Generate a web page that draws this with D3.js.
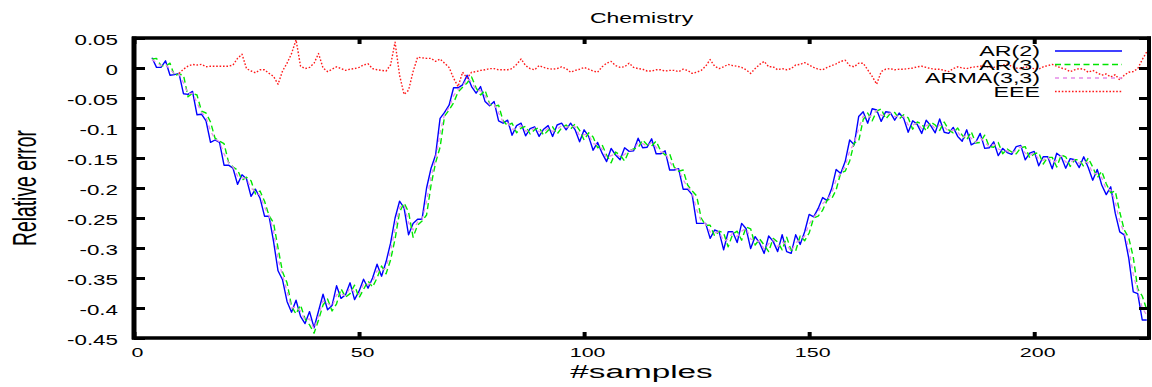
<!DOCTYPE html>
<html>
<head>
<meta charset="utf-8">
<script src="https://cdn.jsdelivr.net/npm/d3@7"></script>
<style>
  html, body { margin: 0; padding: 0; background: #fff; }
  svg { display: block; }
  text { font-family: "Liberation Sans", Arial, Helvetica, sans-serif; fill: #000; }
</style>
</head>
<body>
<svg id="chart" width="1152" height="387"></svg>
<script>
// Relative prediction error per sample for each model (Chemistry data set)
const firstSampleModels = 4;
const firstSampleEEE = 10;

const ar2 = [
  0.017, 0.001, 0.001, 0.012, -0.012, -0.011, -0.009, -0.043, -0.044, -0.039,
  -0.078, -0.077, -0.088, -0.124, -0.120, -0.124, -0.162, -0.162, -0.167, -0.194,
  -0.178, -0.185, -0.214, -0.202, -0.217, -0.247, -0.247, -0.289, -0.338, -0.353,
  -0.389, -0.407, -0.387, -0.414, -0.426, -0.406, -0.433, -0.405, -0.377, -0.403,
  -0.396, -0.363, -0.384, -0.378, -0.358, -0.386, -0.372, -0.352, -0.367, -0.350,
  -0.327, -0.347, -0.323, -0.292, -0.250, -0.222, -0.233, -0.278, -0.259, -0.252,
  -0.252, -0.200, -0.167, -0.145, -0.084, -0.074, -0.062, -0.033, -0.033, -0.028,
  -0.012, -0.031, -0.042, -0.031, -0.056, -0.063, -0.056, -0.088, -0.092, -0.087,
  -0.112, -0.096, -0.092, -0.113, -0.101, -0.098, -0.114, -0.102, -0.096, -0.114,
  -0.095, -0.092, -0.103, -0.092, -0.103, -0.123, -0.103, -0.114, -0.137, -0.124,
  -0.142, -0.156, -0.134, -0.145, -0.153, -0.133, -0.139, -0.138, -0.117, -0.133,
  -0.132, -0.118, -0.143, -0.143, -0.138, -0.170, -0.170, -0.168, -0.202, -0.202,
  -0.211, -0.259, -0.259, -0.259, -0.284, -0.270, -0.273, -0.303, -0.273, -0.273,
  -0.291, -0.259, -0.268, -0.301, -0.281, -0.292, -0.309, -0.280, -0.289, -0.306,
  -0.278, -0.306, -0.309, -0.278, -0.294, -0.273, -0.244, -0.248, -0.234, -0.216,
  -0.221, -0.201, -0.169, -0.176, -0.156, -0.120, -0.128, -0.081, -0.073, -0.092,
  -0.068, -0.070, -0.089, -0.073, -0.074, -0.087, -0.075, -0.084, -0.107, -0.088,
  -0.094, -0.109, -0.087, -0.096, -0.108, -0.085, -0.107, -0.109, -0.099, -0.114,
  -0.122, -0.103, -0.128, -0.124, -0.109, -0.134, -0.133, -0.123, -0.146, -0.134,
  -0.141, -0.144, -0.131, -0.129, -0.153, -0.142, -0.139, -0.163, -0.148, -0.148,
  -0.168, -0.142, -0.148, -0.167, -0.151, -0.153, -0.166, -0.148, -0.166, -0.187,
  -0.169, -0.195, -0.211, -0.198, -0.242, -0.273, -0.278, -0.317, -0.373, -0.376,
  -0.420, -0.420
];

const ar3 = [
  0.015, 0.016, 0.004, 0.003, 0.008, -0.013, -0.010, -0.012, -0.048, -0.042,
  -0.045, -0.072, -0.075, -0.090, -0.117, -0.122, -0.126, -0.157, -0.165, -0.170,
  -0.187, -0.182, -0.188, -0.210, -0.205, -0.222, -0.246, -0.258, -0.300, -0.340,
  -0.358, -0.397, -0.410, -0.395, -0.418, -0.428, -0.442, -0.420, -0.395, -0.385,
  -0.405, -0.393, -0.368, -0.382, -0.376, -0.362, -0.383, -0.369, -0.355, -0.365,
  -0.350, -0.330, -0.343, -0.320, -0.285, -0.240, -0.225, -0.240, -0.282, -0.262,
  -0.255, -0.245, -0.195, -0.158, -0.132, -0.080, -0.070, -0.058, -0.040, -0.032,
  -0.025, -0.015, -0.033, -0.045, -0.037, -0.060, -0.064, -0.062, -0.088, -0.096,
  -0.092, -0.108, -0.100, -0.097, -0.110, -0.103, -0.099, -0.112, -0.104, -0.098,
  -0.110, -0.100, -0.095, -0.102, -0.093, -0.104, -0.120, -0.108, -0.115, -0.133,
  -0.128, -0.145, -0.158, -0.140, -0.145, -0.155, -0.138, -0.135, -0.133, -0.120,
  -0.128, -0.130, -0.122, -0.138, -0.145, -0.143, -0.165, -0.172, -0.170, -0.195,
  -0.205, -0.213, -0.250, -0.262, -0.262, -0.280, -0.272, -0.275, -0.298, -0.277,
  -0.272, -0.287, -0.265, -0.268, -0.295, -0.285, -0.295, -0.306, -0.284, -0.290,
  -0.303, -0.282, -0.304, -0.305, -0.280, -0.288, -0.275, -0.250, -0.247, -0.237,
  -0.220, -0.218, -0.203, -0.175, -0.172, -0.155, -0.125, -0.122, -0.086, -0.075,
  -0.088, -0.072, -0.068, -0.085, -0.076, -0.074, -0.085, -0.078, -0.083, -0.102,
  -0.090, -0.093, -0.105, -0.090, -0.095, -0.104, -0.090, -0.103, -0.108, -0.100,
  -0.112, -0.120, -0.106, -0.125, -0.124, -0.112, -0.131, -0.132, -0.124, -0.143,
  -0.135, -0.140, -0.143, -0.133, -0.131, -0.150, -0.143, -0.141, -0.160, -0.149,
  -0.149, -0.165, -0.145, -0.148, -0.164, -0.153, -0.153, -0.164, -0.150, -0.165,
  -0.183, -0.172, -0.193, -0.208, -0.205, -0.240, -0.270, -0.283, -0.315, -0.368,
  -0.380, -0.403
];

const arma33 = [
  0.014, 0.009, 0.004, 0.006, -0.002, -0.010, -0.010, -0.025, -0.043, -0.042,
  -0.058, -0.074, -0.082, -0.105, -0.118, -0.123, -0.143, -0.158, -0.165, -0.180,
  -0.183, -0.184, -0.200, -0.206, -0.212, -0.232, -0.246, -0.272, -0.318, -0.346,
  -0.372, -0.400, -0.398, -0.405, -0.420, -0.418, -0.435, -0.413, -0.388, -0.392,
  -0.398, -0.378, -0.376, -0.380, -0.366, -0.374, -0.377, -0.360, -0.361, -0.357,
  -0.338, -0.338, -0.333, -0.305, -0.268, -0.232, -0.228, -0.258, -0.270, -0.257,
  -0.253, -0.222, -0.181, -0.152, -0.108, -0.077, -0.066, -0.046, -0.036, -0.030,
  -0.018, -0.023, -0.037, -0.038, -0.046, -0.061, -0.060, -0.075, -0.090, -0.091,
  -0.102, -0.102, -0.096, -0.105, -0.105, -0.100, -0.106, -0.107, -0.100, -0.106,
  -0.102, -0.096, -0.099, -0.097, -0.098, -0.113, -0.111, -0.111, -0.126, -0.128,
  -0.135, -0.150, -0.146, -0.143, -0.149, -0.144, -0.138, -0.136, -0.125, -0.126,
  -0.130, -0.124, -0.132, -0.140, -0.141, -0.156, -0.167, -0.170, -0.186, -0.199,
  -0.208, -0.236, -0.255, -0.260, -0.273, -0.275, -0.273, -0.289, -0.285, -0.275,
  -0.281, -0.272, -0.267, -0.285, -0.288, -0.289, -0.302, -0.293, -0.286, -0.298,
  -0.290, -0.294, -0.306, -0.291, -0.287, -0.280, -0.260, -0.249, -0.240, -0.226,
  -0.220, -0.209, -0.186, -0.176, -0.164, -0.138, -0.126, -0.101, -0.080, -0.083,
  -0.078, -0.071, -0.079, -0.079, -0.075, -0.081, -0.080, -0.081, -0.095, -0.095,
  -0.092, -0.101, -0.096, -0.093, -0.101, -0.095, -0.098, -0.106, -0.103, -0.107,
  -0.117, -0.111, -0.117, -0.124, -0.116, -0.123, -0.132, -0.127, -0.135, -0.138,
  -0.138, -0.142, -0.137, -0.131, -0.142, -0.146, -0.141, -0.152, -0.154, -0.148,
  -0.158, -0.154, -0.146, -0.157, -0.157, -0.153, -0.159, -0.156, -0.158, -0.176,
  -0.176, -0.183, -0.202, -0.203, -0.223, -0.256, -0.274, -0.300, -0.344, -0.372,
  -0.400, -0.412
];

const eee = [
  -0.009, -0.002, 0.003, 0.006, 0.005, 0.006, 0.002, 0.003, 0.003, 0.003,
  0.003, 0.003, 0.005, 0.016, 0.023, -0.001, -0.005, -0.008, -0.003, -0.003,
  -0.009, -0.014, -0.027, -0.005, 0.008, 0.024, 0.047, 0.003, -0.001, 0.001,
  0.008, 0.024, 0.000, -0.006, -0.002, 0.002, -0.001, -0.004, -0.002, -0.001,
  0.001, 0.005, 0.007, -0.001, -0.003, -0.004, -0.005, 0.005, 0.043, -0.012,
  -0.044, -0.037, -0.006, 0.018, 0.017, 0.016, 0.016, 0.011, 0.015, 0.008,
  0.001, -0.017, -0.031, -0.007, -0.017, -0.007, -0.006, -0.004, -0.003, -0.001,
  -0.001, -0.003, -0.003, -0.003, -0.001, 0.006, 0.015, 0.004, -0.001, -0.003,
  0.004, 0.001, -0.001, -0.002, -0.001, 0.002, -0.001, -0.007, -0.004, -0.002,
  0.001, -0.002, -0.005, -0.007, 0.002, 0.008, 0.011, 0.004, 0.001, 0.002,
  0.008, 0.001, -0.001, -0.002, -0.005, -0.005, -0.003, -0.003, -0.005, -0.004,
  -0.004, -0.006, -0.002, -0.004, -0.009, -0.007, -0.004, 0.003, 0.014, 0.003,
  -0.001, 0.002, 0.006, 0.004, 0.003, 0.001, -0.003, -0.009, -0.001, 0.006,
  0.011, 0.002, 0.002, -0.003, -0.001, -0.003, -0.001, 0.005, 0.006, 0.009,
  0.005, 0.001, -0.002, -0.003, 0.001, 0.004, 0.007, 0.011, 0.013, 0.004,
  0.002, 0.008, 0.008, -0.003, -0.014, -0.027, -0.006, -0.002, -0.001, -0.003,
  -0.002, -0.002, -0.001, 0.000, 0.002, 0.003, 0.001, -0.001, -0.002, -0.002,
  -0.004, -0.006, -0.001, 0.002, 0.000, -0.001, 0.001, 0.002, 0.003, 0.004,
  0.001, 0.001, 0.002, 0.005, 0.006, 0.003, 0.000, -0.001, 0.002, 0.000,
  -0.001, -0.002, 0.002, 0.004, 0.006, 0.003, 0.000, -0.002, -0.006, -0.003,
  -0.001, -0.002, -0.007, -0.004, -0.008, -0.012, -0.010, -0.015, -0.011, -0.020,
  -0.012, -0.007, -0.006, -0.001, 0.014, 0.027
];

const xTicks = [0, 50, 100, 150, 200];
const xTickLabels = ["0", "50", "100", "150", "200"];
const yTicks = [-0.45, -0.4, -0.35, -0.3, -0.25, -0.2, -0.15, -0.1, -0.05, 0, 0.05];
const yTickLabels = ["-0.45", "-0.4", "-0.35", "-0.3", "-0.25", "-0.2", "-0.15", "-0.1", "-0.05", "0", "0.05"];

const seriesNames = ["AR(2)", "AR(3)", "ARMA(3,3)", "EEE"];

// ---- layout ----
const plot = { left: 134, right: 1149, top: 38, bottom: 338 };
const svg = d3.select("#chart");

const x = d3.scaleLinear().domain([0, 225.5]).range([plot.left, plot.right]);
const y = d3.scaleLinear().domain([-0.45, 0.05]).range([plot.bottom, plot.top]);

const series = [
  { name: seriesNames[0], data: ar2, start: firstSampleModels, color: "#0000ff", width: 1.4, dash: null },
  { name: seriesNames[1], data: ar3, start: firstSampleModels, color: "#00e600", width: 1.4, dash: "6,3.5" },
  { name: seriesNames[2], data: arma33, start: firstSampleModels, color: "#e58be8", width: 1.3, dash: "4,4" },
  { name: seriesNames[3], data: eee, start: firstSampleEEE, color: "#ff1a1a", width: 1.4, dash: "1.6,1.8" }
];

const line = d3.line()
  .x(d => x(d[0]))
  .y(d => y(d[1]));

const gLines = svg.append("g");
series.forEach(s => {
  const pts = s.data.map((v, i) => [s.start + i, v]);
  gLines.append("path")
    .datum(pts)
    .attr("fill", "none")
    .attr("stroke", s.color)
    .attr("stroke-width", s.width)
    .attr("stroke-dasharray", s.dash)
    .attr("stroke-linejoin", "round")
    .attr("d", line);
});

// ---- axes (ticks drawn inward, mirrored on top and right) ----
function styleAxis(g, tickWidth) {
  g.select(".domain").remove();
  g.selectAll(".tick line").attr("stroke", "#000").attr("stroke-width", tickWidth);
}

const gLeft = svg.append("g")
  .attr("transform", `translate(${plot.left},0)`)
  .call(d3.axisLeft(y).tickValues(yTicks).tickSize(-11).tickFormat((d, i) => yTickLabels[i]));
styleAxis(gLeft, 3);
gLeft.selectAll(".tick text")
  .attr("x", 0)
  .attr("dy", "0.38em")
  .attr("text-anchor", "end")
  .attr("font-size", 14)
  .attr("font-family", null)
  .attr("transform", "translate(-16,1) scale(1.6,1)");

const gRight = svg.append("g")
  .attr("transform", `translate(${plot.right},0)`)
  .call(d3.axisRight(y).tickValues(yTicks).tickSize(-10).tickFormat(""));
styleAxis(gRight, 3);

const gBottom = svg.append("g")
  .attr("transform", `translate(0,${plot.bottom})`)
  .call(d3.axisBottom(x).tickValues(xTicks).tickSize(-6).tickFormat((d, i) => xTickLabels[i]));
styleAxis(gBottom, 4);
gBottom.selectAll(".tick text")
  .attr("y", 0)
  .attr("dy", 0)
  .attr("text-anchor", "middle")
  .attr("font-size", 13)
  .attr("font-family", null)
  .attr("transform", "translate(3,18.7) scale(1.65,1)");

const gTop = svg.append("g")
  .attr("transform", `translate(0,${plot.top})`)
  .call(d3.axisTop(x).tickValues(xTicks).tickSize(-6).tickFormat(""));
styleAxis(gTop, 4);

// ---- frame ----
const frame = svg.append("g").attr("stroke", "#000").attr("fill", "none");
frame.append("line").attr("x1", plot.left - 2).attr("x2", plot.right + 2)
  .attr("y1", plot.top).attr("y2", plot.top).attr("stroke-width", 3.3);
frame.append("line").attr("x1", plot.left - 2).attr("x2", plot.right + 2)
  .attr("y1", plot.bottom).attr("y2", plot.bottom).attr("stroke-width", 3.3);
frame.append("line").attr("x1", plot.left).attr("x2", plot.left)
  .attr("y1", plot.top - 1.6).attr("y2", plot.bottom + 1.6).attr("stroke-width", 5);
frame.append("line").attr("x1", plot.right).attr("x2", plot.right)
  .attr("y1", plot.top - 1.6).attr("y2", plot.bottom + 1.6).attr("stroke-width", 4);

// ---- titles ----
const cx = (plot.left + plot.right) / 2;
svg.append("text")
  .attr("text-anchor", "middle")
  .attr("font-size", 15)
  .attr("transform", `translate(${cx},22.7) scale(1.53,1)`)
  .text("Chemistry");

svg.append("text")
  .attr("text-anchor", "middle")
  .attr("font-size", 18)
  .attr("transform", `translate(${cx},378) scale(1.85,1)`)
  .text("#samples");

svg.append("text")
  .attr("text-anchor", "middle")
  .attr("font-size", 18)
  .attr("transform", `translate(36,188) rotate(-90) scale(1.074,1.84)`)
  .text("Relative error");

// ---- legend ----
const legend = svg.append("g");
const legendTop = 51, legendStep = 13.5;
series.forEach((s, i) => {
  const ly = legendTop + i * legendStep;
  legend.append("text")
    .attr("text-anchor", "end")
    .attr("font-size", 15)
    .attr("transform", `translate(1040,${ly + 5.4}) scale(1.55,1)`)
    .text(s.name);
  legend.append("line")
    .attr("x1", 1055).attr("x2", 1122)
    .attr("y1", ly).attr("y2", ly)
    .attr("stroke", s.color)
    .attr("stroke-width", s.width)
    .attr("stroke-dasharray", s.dash);
});
</script>
</body>
</html>
